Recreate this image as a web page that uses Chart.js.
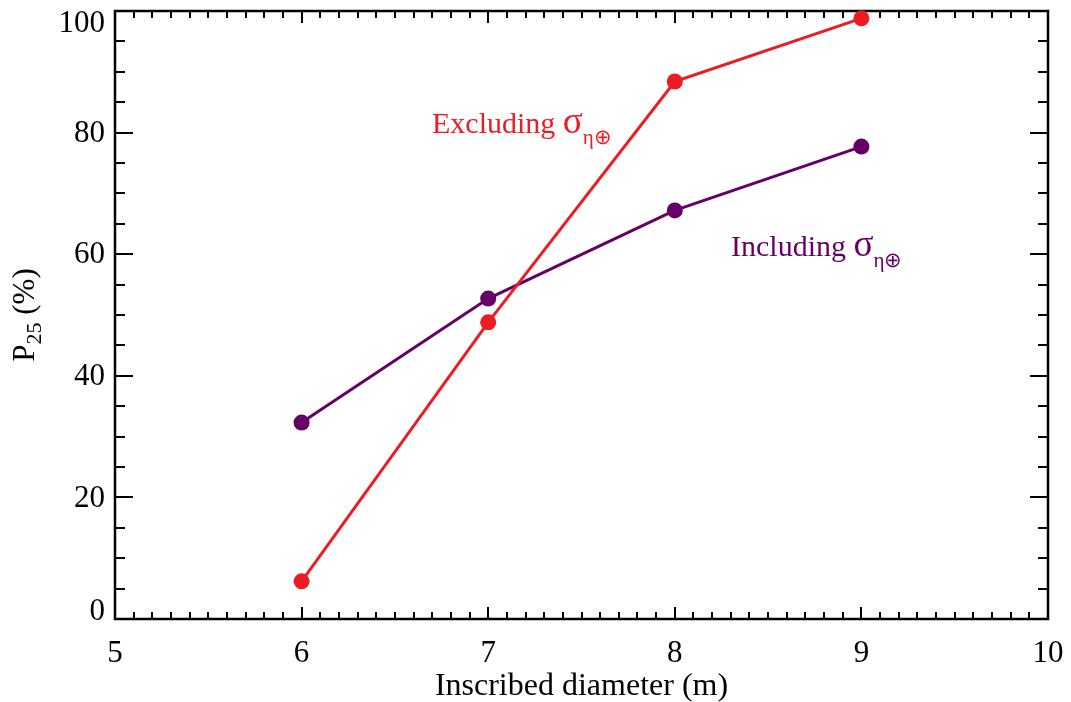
<!DOCTYPE html>
<html>
<head>
<meta charset="utf-8">
<script src="https://cdn.jsdelivr.net/npm/chart.js@4"></script>
<style>
  html, body { margin: 0; padding: 0; background: #fff; }
  #wrap { width: 1071px; height: 702px; }
</style>
</head>
<body>
<div id="wrap"><canvas id="grafico"></canvas></div>
<script>
// ======== DADOS ========
const diametros = [6, 7, 8, 9];
const excluindo = [6.2, 48.8, 88.4, 98.8];
const incluindo = [32.3, 52.7, 67.2, 77.7];
const ticksX = [5, 6, 7, 8, 9, 10];
const ticksY = [0, 20, 40, 60, 80, 100];

const vermelho = "rgb(237, 28, 36)";
const roxo = "rgb(102, 0, 102)";
const fonte = "'Liberation Serif', 'Times New Roman', serif";

// ======== MOLDURA E TICKS PARA DENTRO (antes dos dados) ========
const molduraPlugin = {
    id: "moldura",
    beforeDatasetsDraw(chart) {
        const ctx = chart.ctx;
        const a = chart.chartArea;
        const sx = chart.scales.x;
        const sy = chart.scales.y;
        ctx.save();
        ctx.strokeStyle = "#000";
        ctx.lineWidth = 2;
        ctx.beginPath();
        // ticks do eixo x (embaixo e em cima)
        for (let i = 0; i <= 50; i++) {
            const v = 5 + i * 0.1;
            const px = Math.round(sx.getPixelForValue(v));
            const len = i % 10 === 0 ? 12 : 7;
            ctx.moveTo(px, a.bottom); ctx.lineTo(px, a.bottom - len);
            ctx.moveTo(px, a.top); ctx.lineTo(px, a.top + len);
        }
        // ticks do eixo y (esquerda e direita)
        for (let i = 0; i <= 20; i++) {
            const v = i * 5;
            const py = Math.round(sy.getPixelForValue(v));
            const len = i % 4 === 0 ? 18 : 10;
            ctx.moveTo(a.left, py); ctx.lineTo(a.left + len, py);
            ctx.moveTo(a.right, py); ctx.lineTo(a.right - len, py);
        }
        ctx.stroke();
        ctx.lineWidth = 2.5;
        ctx.strokeRect(a.left, a.top, a.right - a.left, a.bottom - a.top);

        // rótulos do eixo y (os das pontas ficam para dentro, como no IDL)
        ctx.fillStyle = "#000";
        ctx.font = "31px " + fonte;
        ctx.textAlign = "right";
        ticksY.forEach(v => {
            const py = sy.getPixelForValue(v);
            if (v === sy.max) {
                ctx.textBaseline = "top";
                ctx.fillText(String(v), a.left - 10, py - 3);
            } else if (v === sy.min) {
                ctx.textBaseline = "alphabetic";
                ctx.fillText(String(v), a.left - 10, py + 1);
            } else {
                ctx.textBaseline = "middle";
                ctx.fillText(String(v), a.left - 10, py + 1);
            }
        });
        ctx.restore();
    },
    afterDraw(chart) {
        const ctx = chart.ctx;
        const a = chart.chartArea;
        ctx.save();
        // título do eixo x
        ctx.fillStyle = "#000";
        ctx.font = "32px " + fonte;
        ctx.textAlign = "center";
        ctx.textBaseline = "alphabetic";
        ctx.fillText("Inscribed diameter (m)", (a.left + a.right) / 2, 695);

        // título do eixo y: P_25 (%)
        ctx.save();
        ctx.translate(34, (a.top + a.bottom) / 2);
        ctx.rotate(-Math.PI / 2);
        ctx.textAlign = "left";
        ctx.font = "31px " + fonte;
        const wP = ctx.measureText("P").width;
        ctx.font = "22px " + fonte;
        const w25 = ctx.measureText("25").width;
        ctx.font = "31px " + fonte;
        const wR = ctx.measureText(" (%)").width;
        const x0 = -(wP + w25 + wR) / 2;
        ctx.fillText("P", x0, 0);
        ctx.font = "22px " + fonte;
        ctx.fillText("25", x0 + wP, 7);
        ctx.font = "31px " + fonte;
        ctx.fillText(" (%)", x0 + wP + w25, 0);
        ctx.restore();

        // anotações
        function rotulo(txt, x, y, cor) {
            ctx.fillStyle = cor;
            ctx.textAlign = "left";
            ctx.font = "30px " + fonte;
            ctx.fillText(txt, x, y);
            let w = ctx.measureText(txt).width;
            ctx.font = "37px " + fonte;
            ctx.fillText("σ", x + w, y);
            w += ctx.measureText("σ").width;
            ctx.font = "21px " + fonte;
            ctx.fillText("η⊕", x + w, y + 11);
        }
        rotulo("Excluding ", 432, 133, vermelho);
        rotulo("Including ", 731, 256, roxo);
        ctx.restore();
    }
};

// ======== GRÁFICO ========
new Chart(document.getElementById("grafico"), {
    type: "line",
    data: {
        datasets: [
            {
                label: "Excluding",
                data: diametros.map((d, i) => ({ x: d, y: excluindo[i] })),
                borderColor: vermelho,
                backgroundColor: vermelho,
                borderWidth: 3,
                pointRadius: 8,
                pointBorderWidth: 0,
                tension: 0,
                clip: false
            },
            {
                label: "Including",
                data: diametros.map((d, i) => ({ x: d, y: incluindo[i] })),
                borderColor: roxo,
                backgroundColor: roxo,
                borderWidth: 3,
                pointRadius: 8,
                pointBorderWidth: 0,
                tension: 0,
                clip: false
            }
        ]
    },
    options: {
        responsive: true,
        maintainAspectRatio: false,
        animation: false,
        events: [],
        layout: { padding: { top: 11, right: 23, left: 0, bottom: 0 } },
        plugins: {
            legend: { display: false },
            tooltip: { enabled: false }
        },
        scales: {
            x: {
                type: "linear",
                min: 5,
                max: 10,
                afterBuildTicks: s => { s.ticks = ticksX.map(v => ({ value: v })); },
                afterFit: s => { s.height = 83; s.paddingLeft = 0; s.paddingRight = 0; },
                grid: { display: false, drawTicks: false },
                border: { display: false },
                ticks: { color: "#000", font: { family: fonte, size: 31 }, padding: 16, maxRotation: 0 }
            },
            y: {
                type: "linear",
                min: 0,
                max: 100,
                afterBuildTicks: s => { s.ticks = ticksY.map(v => ({ value: v })); },
                afterFit: s => { s.width = 115; s.paddingTop = 0; s.paddingBottom = 0; },
                grid: { display: false, drawTicks: false },
                border: { display: false },
                ticks: { display: false }
            }
        }
    },
    plugins: [molduraPlugin]
});
</script>
</body>
</html>
